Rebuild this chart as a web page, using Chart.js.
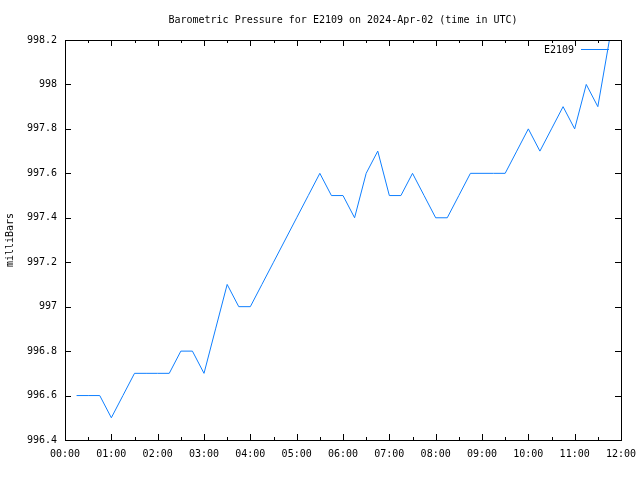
<!DOCTYPE html>
<html>
<head>
<meta charset="utf-8">
<script src="https://cdn.jsdelivr.net/npm/chart.js@4/dist/chart.umd.min.js"></script>
<style>
  html, body { margin: 0; padding: 0; background: #fff; }
  #wrap { width: 640px; height: 480px; }
</style>
</head>
<body>
<div id="wrap"><canvas id="grafik" width="640" height="480"></canvas></div>
<script>
// Data tekanan udara, tiap 15 menit (menit sejak 00:00 UTC)
const menit = [15, 30, 45, 60, 75, 90, 105, 120, 135, 150, 165, 180, 195, 210, 225, 240,
  255, 270, 285, 300, 315, 330, 345, 360, 375, 390, 405, 420, 435, 450, 465, 480,
  495, 510, 525, 540, 555, 570, 585, 600, 615, 630, 645, 660, 675, 690, 705];
const tekanan = [996.6, 996.6, 996.6, 996.5, 996.6, 996.7, 996.7, 996.7, 996.7, 996.8, 996.8, 996.7,
  996.9, 997.1, 997.0, 997.0, 997.1, 997.2, 997.3, 997.4, 997.5, 997.6, 997.5, 997.5,
  997.4, 997.6, 997.7, 997.5, 997.5, 997.6, 997.5, 997.4, 997.4, 997.5, 997.6, 997.6,
  997.6, 997.6, 997.7, 997.8, 997.7, 997.8, 997.9, 997.8, 998.0, 997.9, 998.2];
const labelJam = ['00:00', '01:00', '02:00', '03:00', '04:00', '05:00', '06:00',
  '07:00', '08:00', '09:00', '10:00', '11:00', '12:00'];
const namaSeri = 'E2109';
const judul = 'Barometric Pressure for E2109 on 2024-Apr-02 (time in UTC)';

const huruf = { family: "'DejaVu Sans Mono', monospace", size: 10 };
const warnaGaris = '#0f7fff';

// Plugin: judul, tick ke dalam (gaya gnuplot), dan legenda kecil di pojok
const gayaGnuplot = {
  id: 'gayaGnuplot',
  afterDraw(chart) {
    const ctx = chart.ctx;
    const area = chart.chartArea;
    const sx = chart.scales.x;
    const sy = chart.scales.y;
    ctx.save();
    ctx.strokeStyle = '#000';
    ctx.lineWidth = 1;
    ctx.beginPath();
    // tick sumbu x (mayor tiap jam, minor tiap setengah jam)
    for (let m = 0; m <= 720; m += 30) {
      const x = Math.round(sx.getPixelForValue(m)) + 0.5;
      const pj = (m % 60 === 0) ? 6 : 3;
      ctx.moveTo(x, area.bottom); ctx.lineTo(x, area.bottom - pj);
      ctx.moveTo(x, area.top); ctx.lineTo(x, area.top + pj);
    }
    // tick sumbu y
    sy.ticks.forEach(t => {
      const y = Math.round(sy.getPixelForValue(t.value)) + 0.5;
      ctx.moveTo(area.left, y); ctx.lineTo(area.left + 6, y);
      ctx.moveTo(area.right, y); ctx.lineTo(area.right - 6, y);
    });
    ctx.stroke();
    // bingkai
    ctx.strokeRect(Math.round(area.left) + 0.5, Math.round(area.top) + 0.5,
      Math.round(area.right - area.left), Math.round(area.bottom - area.top));

    ctx.font = huruf.size + 'px ' + huruf.family;
    ctx.fillStyle = '#000';
    ctx.textBaseline = 'middle';
    // judul
    ctx.textAlign = 'center';
    ctx.fillText(judul, (area.left + area.right) / 2, 20);
    // legenda
    ctx.textAlign = 'right';
    ctx.fillText(namaSeri, area.right - 47, 50);
    ctx.strokeStyle = warnaGaris;
    ctx.beginPath();
    ctx.moveTo(area.right - 40, 49.5);
    ctx.lineTo(area.right - 12, 49.5);
    ctx.stroke();
    ctx.restore();
  }
};

new Chart(document.getElementById('grafik').getContext('2d'), {
  type: 'line',
  data: {
    datasets: [{
      label: namaSeri,
      data: menit.map((m, i) => ({ x: m, y: tekanan[i] })),
      borderColor: warnaGaris,
      borderWidth: 1,
      pointRadius: 0,
      tension: 0,
      fill: false
    }]
  },
  options: {
    responsive: false,
    animation: false,
    events: [],
    layout: { padding: { top: 40, right: 19, bottom: 0, left: 0 } },
    plugins: {
      legend: { display: false },
      title: { display: false },
      tooltip: { enabled: false }
    },
    scales: {
      x: {
        type: 'linear',
        min: 0,
        max: 720,
        afterFit: s => { s.height = 40; s.paddingLeft = 0; s.paddingRight = 0; },
        grid: { display: false, drawTicks: false },
        border: { display: false },
        ticks: {
          stepSize: 60,
          autoSkip: false,
          maxRotation: 0,
          padding: 8,
          color: '#000',
          font: huruf,
          callback: v => labelJam[v / 60]
        }
      },
      y: {
        min: 996.4,
        max: 998.2,
        afterFit: s => { s.width = 65; },
        grid: { display: false, drawTicks: false },
        border: { display: false },
        ticks: {
          stepSize: 0.2,
          padding: 8,
          color: '#000',
          font: huruf,
          callback: v => String(parseFloat(v.toFixed(1)))
        },
        title: {
          display: true,
          text: 'milliBars',
          color: '#000',
          font: huruf,
          padding: { top: 4, bottom: 0 }
        }
      }
    }
  },
  plugins: [gayaGnuplot]
});
</script>
</body>
</html>
